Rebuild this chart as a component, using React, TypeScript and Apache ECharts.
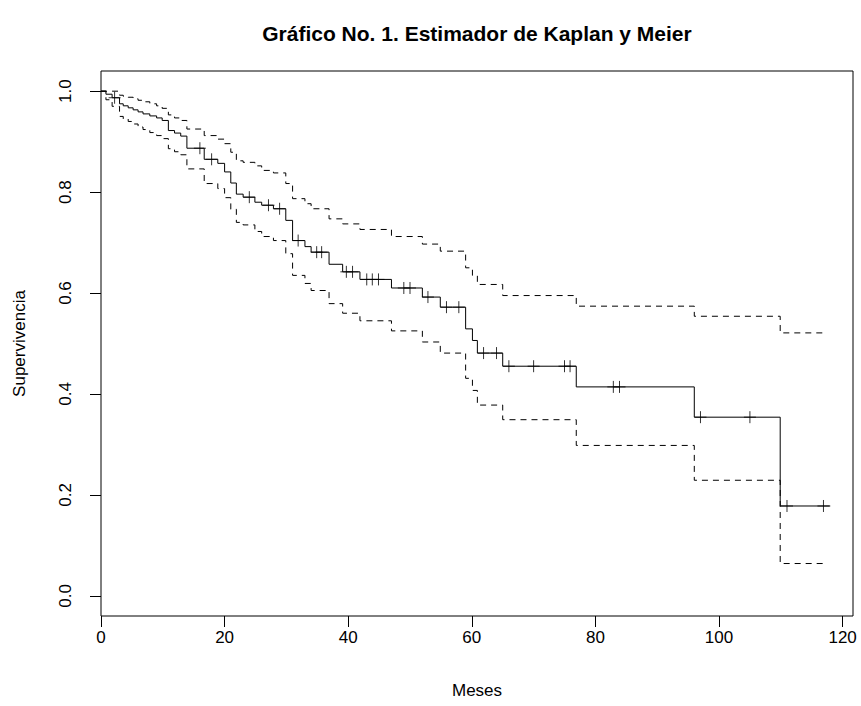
import React, { useEffect, useRef } from "react";
import * as echarts from "echarts";

const eventTimes = [0, 0.8, 1.8, 3.0, 3.6, 4.4, 5.2, 6.0, 6.8, 7.9, 9.0, 9.9, 10.9, 11.9, 12.9, 13.9, 16.7, 18.9, 20.0, 21.0, 21.9, 23.0, 24.9, 26.0, 27.9, 29.9, 31.0, 33.0, 34.0, 36.9, 39.1, 41.9, 47.0, 52.0, 54.9, 59.0, 60.1, 60.9, 65.0, 76.9, 96.0, 109.9];
const survival = [1, 0.994, 0.987, 0.975, 0.971, 0.967, 0.963, 0.959, 0.955, 0.951, 0.947, 0.942, 0.922, 0.917, 0.911, 0.887, 0.865, 0.857, 0.840, 0.818, 0.796, 0.790, 0.780, 0.774, 0.767, 0.744, 0.704, 0.692, 0.681, 0.657, 0.642, 0.627, 0.610, 0.592, 0.572, 0.529, 0.506, 0.481, 0.455, 0.414, 0.354, 0.178];
const upperCI = [1, 1, 1, 0.992, 0.990, 0.988, 0.985, 0.982, 0.979, 0.975, 0.971, 0.966, 0.953, 0.947, 0.942, 0.925, 0.912, 0.905, 0.896, 0.879, 0.862, 0.859, 0.852, 0.843, 0.838, 0.817, 0.787, 0.777, 0.767, 0.747, 0.737, 0.726, 0.712, 0.697, 0.683, 0.650, 0.635, 0.617, 0.595, 0.574, 0.554, 0.521];
const lowerCI = [1, 0.983, 0.970, 0.950, 0.945, 0.940, 0.935, 0.929, 0.924, 0.918, 0.912, 0.906, 0.886, 0.880, 0.874, 0.846, 0.817, 0.807, 0.789, 0.766, 0.740, 0.735, 0.722, 0.712, 0.704, 0.678, 0.635, 0.619, 0.605, 0.579, 0.560, 0.545, 0.525, 0.503, 0.481, 0.431, 0.407, 0.378, 0.349, 0.298, 0.229, 0.064];
const censorTimes = [2.2, 16.0, 17.9, 24.0, 27.1, 28.9, 31.9, 34.9, 35.7, 39.7, 40.7, 43.0, 43.9, 44.9, 49.0, 50.0, 52.9, 55.9, 57.9, 61.9, 64.0, 66.0, 70.0, 75.0, 75.9, 82.9, 83.9, 97.0, 105.0, 111.0, 116.9];
const curveEnd = 118;
const ciEnd = 117;
const xTicks = [0, 20, 40, 60, 80, 100, 120];
const yTicks = [0, 0.2, 0.4, 0.6, 0.8, 1.0];

const FONT = "'Liberation Sans', Arial, Helvetica, sans-serif";

function survAt(t: number): number {
  let v = 1;
  for (let i = 0; i < eventTimes.length; i++) {
    if (eventTimes[i] <= t) v = survival[i];
  }
  return v;
}

export default function App() {
  const ref = useRef<HTMLDivElement>(null);
  useEffect(() => {
    if (!ref.current) return;
    const chart = echarts.init(ref.current, null, { renderer: "svg" });
    const step = (vals: number[], end: number) => {
      const d = eventTimes.map((t, i) => [t, vals[i]]);
      d.push([end, vals[vals.length - 1]]);
      return d;
    };
    chart.setOption({
      animation: false,
      backgroundColor: "#fff",
      graphic: [
        {
          type: "text",
          x: 477,
          y: 33,
          style: {
            text: "Gráfico No. 1. Estimador de Kaplan y Meier",
            font: `bold 21px ${FONT}`,
            fill: "#000",
            align: "center",
            verticalAlign: "middle",
          },
        },
      ],
      grid: {
        left: 101,
        right: 8,
        top: 71,
        bottom: 90,
        show: true,
        borderColor: "#000",
        borderWidth: 1,
        backgroundColor: "transparent",
        outerBoundsMode: "none",
      },
      xAxis: {
        type: "value",
        min: 0,
        max: 121.68,
        name: "Meses",
        nameLocation: "middle",
        nameGap: 66,
        nameTextStyle: { fontFamily: FONT, fontSize: 17, color: "#000" },
        axisLine: { show: false, onZero: false },
        splitLine: { show: false },
        axisTick: {
          show: true,
          inside: false,
          length: 11,
          lineStyle: { color: "#000", width: 1 },
          customValues: xTicks,
        },
        axisLabel: {
          show: true,
          margin: 13,
          fontFamily: FONT,
          fontSize: 17,
          color: "#000",
          customValues: xTicks,
          formatter: (v: number) => String(v),
        },
      },
      yAxis: {
        type: "value",
        min: -0.04,
        max: 1.04,
        name: "Supervivencia",
        nameLocation: "middle",
        nameRotate: 90,
        nameGap: 73,
        nameTextStyle: { fontFamily: FONT, fontSize: 17, color: "#000" },
        axisLine: { show: false, onZero: false },
        splitLine: { show: false },
        axisTick: {
          show: true,
          inside: false,
          length: 11,
          lineStyle: { color: "#000", width: 1 },
          customValues: yTicks,
        },
        axisLabel: {
          show: true,
          rotate: 90,
          margin: 27,
          fontFamily: FONT,
          fontSize: 17,
          color: "#000",
          customValues: yTicks,
          formatter: (v: number) => v.toFixed(1),
        },
      },
      series: [
        {
          type: "line",
          step: "end",
          symbol: "none",
          data: step(survival, curveEnd),
          lineStyle: { color: "#000", width: 1 },
          z: 3,
        },
        {
          type: "line",
          step: "end",
          symbol: "none",
          data: step(upperCI, ciEnd),
          lineStyle: { color: "#000", width: 1, type: [6, 5] },
        },
        {
          type: "line",
          step: "end",
          symbol: "none",
          data: step(lowerCI, ciEnd),
          lineStyle: { color: "#000", width: 1, type: [6, 5] },
        },
        {
          type: "scatter",
          symbol: "path://M6,0V12M0,6H12",
          symbolSize: 12,
          data: censorTimes.map((t) => [t, survAt(t)]),
          itemStyle: { color: "none", borderColor: "#000", borderWidth: 1 },
          z: 4,
        },
      ],
    });
    return () => chart.dispose();
  }, []);
  return <div ref={ref} style={{ width: 861, height: 706, position: "absolute", left: 0, top: 0 }} />;
}
